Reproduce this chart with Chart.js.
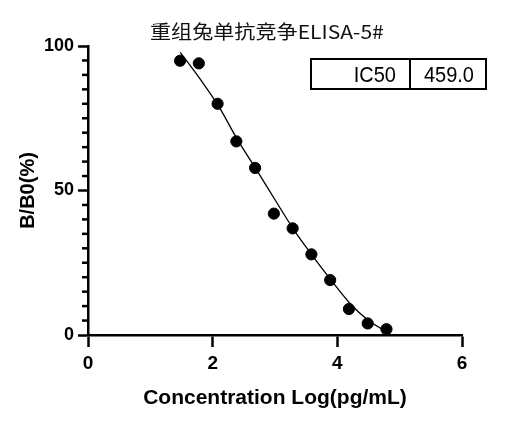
<!DOCTYPE html>
<html>
<head>
<meta charset="utf-8">
<script src="https://cdn.jsdelivr.net/npm/chart.js@4.4.0/dist/chart.umd.min.js"></script>
<style>
html, body { margin: 0; padding: 0; background: #fff; }
#marco { position: relative; width: 520px; height: 433px; }
#grafico { position: absolute; left: 0; top: 0; }
#titulo {
    position: absolute; left: 150px; top: 21px;
    font-family: "Noto Sans CJK SC", "Noto Sans", sans-serif;
    font-size: 19px; line-height: 1; white-space: nowrap; color: #111;
    transform: scaleX(1.11); transform-origin: 0 50%;
}
#tabla {
    position: absolute; left: 310px; top: 58px; width: 177px; height: 32px;
    box-sizing: border-box; border: 2px solid #000; display: flex;
    font-family: "Liberation Sans", Arial, sans-serif; font-size: 20px; color: #000;
}
#tabla div { box-sizing: border-box; height: 100%; text-align: right; line-height: 28px; }
#tabla .c1 { width: 99px; border-right: 2px solid #000; padding-right: 13px; }
#tabla .c2 { flex: 1; padding-right: 11px; }
#tabla span { display: inline-block; transform: scaleY(1.12); }
</style>
</head>
<body>
<div id="marco">
    <canvas id="grafico" width="520" height="433"></canvas>
    <div id="titulo">重组兔单抗竞争ELISA-5#</div>
    <div id="tabla"><div class="c1"><span>IC50</span></div><div class="c2"><span>459.0</span></div></div>
</div>
<script>
// puntos medidos (log de concentracion, B/B0 %)
var concLog = [1.477, 1.778, 2.079, 2.380, 2.681, 2.982, 3.283, 3.584, 3.885, 4.186, 4.487, 4.788];
var bb0 = [94.9, 94.0, 80.0, 67.0, 57.8, 42.0, 36.9, 27.9, 19.0, 9.0, 4.0, 2.0];

// curva ajustada
var curvaX = [1.48, 1.80, 2.10, 2.40, 2.70, 3.00, 3.30, 3.60, 3.90, 4.20, 4.50, 4.82];
var curvaY = [97.8, 88.5, 79.0, 67.5, 57.3, 46.8, 36.5, 27.5, 19.0, 11.0, 5.0, 0.8];

var xTicks = [0, 2, 4, 6];
var yTicks = [0, 50, 100];

var puntos = concLog.map(function (x, i) { return { x: x, y: bb0[i] }; });
var curva = curvaX.map(function (x, i) { return { x: x, y: curvaY[i] }; });

// marcas menores del eje Y (cada 5)
var marcasMenores = {
    id: 'marcasMenores',
    afterDraw: function (chart) {
        var y = chart.scales.y;
        var ctx = chart.ctx;
        var x0 = chart.chartArea.left;
        ctx.save();
        ctx.strokeStyle = '#000';
        ctx.lineWidth = 2.5;
        for (var v = 5; v < 100; v += 5) {
            if (v % 50 === 0) continue;
            var py = y.getPixelForValue(v);
            ctx.beginPath();
            ctx.moveTo(x0, py);
            ctx.lineTo(x0 - 6, py);
            ctx.stroke();
        }
        ctx.restore();
    }
};

Chart.defaults.font.family = "'Liberation Sans', Arial, sans-serif";
Chart.defaults.color = '#000';

var ctx = document.getElementById('grafico').getContext('2d');
var chart = new Chart(ctx, {
    type: 'scatter',
    data: {
        datasets: [{
            label: 'B/B0',
            data: puntos,
            backgroundColor: '#000',
            borderColor: '#000',
            pointRadius: 5.6,
            pointHoverRadius: 5.6,
            order: 0
        }, {
            label: 'ajuste',
            data: curva,
            showLine: true,
            borderColor: '#000',
            borderWidth: 1.3,
            pointRadius: 0,
            cubicInterpolationMode: 'monotone',
            order: 1
        }]
    },
    options: {
        responsive: false,
        animation: false,
        layout: { padding: { top: 46, right: 58, left: 0, bottom: 0 } },
        plugins: {
            legend: { display: false },
            tooltip: { enabled: false }
        },
        scales: {
            x: {
                type: 'linear',
                min: 0,
                max: 6,
                afterBuildTicks: function (s) { s.ticks = xTicks.map(function (v) { return { value: v }; }); },
                afterFit: function (s) { s.height = 98; },
                grid: { drawOnChartArea: false, tickLength: 12, tickWidth: 2.5, tickColor: '#000' },
                border: { display: true, color: '#000', width: 2.5 },
                ticks: { font: { size: 19, weight: 'bold' }, padding: 5, maxRotation: 0 },
                title: {
                    display: true,
                    text: 'Concentration Log(pg/mL)',
                    font: { size: 21, weight: 'bold' },
                    padding: { top: 0, bottom: 22 }
                }
            },
            y: {
                type: 'linear',
                min: 0,
                max: 100,
                afterBuildTicks: function (s) { s.ticks = yTicks.map(function (v) { return { value: v }; }); },
                afterFit: function (s) { s.width = 88; },
                grid: { drawOnChartArea: false, tickLength: 10, tickWidth: 2.5, tickColor: '#000' },
                border: { display: true, color: '#000', width: 2.5 },
                ticks: { font: { size: 18, weight: 'bold' }, padding: 4 },
                title: {
                    display: true,
                    text: 'B/B0(%)',
                    font: { size: 20, weight: 'bold' },
                    padding: { top: 16, bottom: 0 }
                }
            }
        }
    },
    plugins: [marcasMenores]
});
</script>
</body>
</html>
